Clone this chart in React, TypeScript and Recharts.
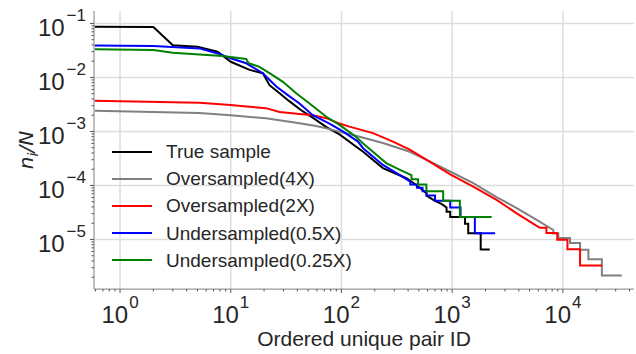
import React from 'react';
import { LineChart, Line, XAxis, YAxis, CartesianGrid, Legend } from 'recharts';

// rank (x) and normalised count (y), one pair of arrays per sample
const trueX = [0.59, 2, 3, 5, 7.6, 10, 14.8, 19.5, 22.4, 27.6, 34, 43, 55, 73, 96, 136, 157, 237, 386, 450, 510, 586, 587, 700, 801, 890, 891, 960, 961, 1306, 1307, 1396, 1397, 1810, 1811, 2185];
const trueY = [0.087, 0.086, 0.0394, 0.0371, 0.03, 0.0195, 0.0138, 0.012, 0.0072, 0.0051, 0.0036, 0.0025, 0.0018, 0.0012, 0.00088, 0.00052, 0.00042, 0.00021, 0.000136, 0.00011, 0.000091, 0.000072, 0.000065, 0.000052, 0.0000455, 0.000039, 0.0000325, 0.0000325, 0.000026, 0.000026, 0.0000195, 0.0000195, 0.000013, 0.000013, 0.0000065, 0.0000065];

const over4X = [0.59, 5.2, 10, 20.8, 41.8, 59, 83, 135, 237, 414, 675, 1020, 1550, 2518, 3828, 5800, 8200, 8201, 9100, 9101, 11600, 11601, 14300, 14301, 17000, 17001, 22500, 22501, 34100];
const over4Y = [0.00243, 0.0022, 0.002, 0.00175, 0.00142, 0.00126, 0.00107, 0.00083, 0.00061, 0.00042, 0.00026, 0.00017, 0.00011, 0.000061, 0.000038, 0.000023, 0.000015, 0.0000129, 0.0000129, 0.0000107, 0.0000107, 0.0000086, 0.0000086, 0.00000645, 0.00000645, 0.0000043, 0.0000043, 0.00000215, 0.00000215];

const over2X = [0.59, 5.2, 10, 13.8, 20.8, 27.6, 41.8, 55, 73, 96, 118, 193, 292, 414, 675, 960, 1550, 2518, 3828, 5800, 6200, 7100, 7101, 8900, 8901, 11000, 11001, 14300, 14301, 22500];
const over2Y = [0.0037, 0.0034, 0.0031, 0.0029, 0.0027, 0.0023, 0.0021, 0.002, 0.00176, 0.0014, 0.00123, 0.00093, 0.00065, 0.00046, 0.00025, 0.00016, 0.000095, 0.000054, 0.0000305, 0.0000178, 0.0000164, 0.0000164, 0.0000132, 0.0000132, 0.0000099, 0.0000099, 0.0000066, 0.0000066, 0.0000033, 0.0000033];

const under05X = [0.59, 2, 5.2, 7.9, 10, 13.8, 19.5, 25.8, 32.8, 41.8, 55, 78, 103, 141, 157, 237, 338, 418, 419, 480, 481, 540, 541, 586, 587, 700, 701, 960, 961, 1191, 1192, 1603, 1604, 2443];
const under05Y = [0.0389, 0.0383, 0.0345, 0.0272, 0.0226, 0.0183, 0.012, 0.0068, 0.0047, 0.0033, 0.002, 0.0014, 0.001, 0.00065, 0.00049, 0.00024, 0.000155, 0.000117, 0.000104, 0.000104, 0.000091, 0.000091, 0.000078, 0.000078, 0.000065, 0.000065, 0.000052, 0.000052, 0.000039, 0.000039, 0.000026, 0.000026, 0.000013, 0.000013];

const under025X = [0.59, 2, 3, 8.4, 13.8, 14.5, 18, 22.4, 29.6, 39, 51.5, 73, 96, 136, 157, 254, 338, 429, 430, 492, 493, 585, 586, 829, 830, 1174, 1175, 2275];
const under025Y = [0.0333, 0.0323, 0.0288, 0.025, 0.022, 0.0183, 0.0159, 0.012, 0.0083, 0.0051, 0.0033, 0.00187, 0.00132, 0.00079, 0.0006, 0.00026, 0.000195, 0.000156, 0.00013, 0.00013, 0.000104, 0.000104, 0.000078, 0.000078, 0.000052, 0.000052, 0.000026, 0.000026];

const xMajor = [1, 10, 100, 1000, 10000];
const xExp = ['0', '1', '2', '3', '4'];
const yMajor = [1e-1, 1e-2, 1e-3, 1e-4, 1e-5];
const yExp = ['\u22121', '\u22122', '\u22123', '\u22124', '\u22125'];

const xDomain = [0.582, 43900];
const yDomain = [1.21e-6, 0.17];

const FONT = '"Liberation Sans", Arial, sans-serif';
const TEXT = '#262626';

const pairs = (xs: number[], ys: number[]) => xs.map((x, i) => ({ x, y: ys[i] }));

const series = [
  { name: 'True sample', color: '#000000', data: pairs(trueX, trueY) },
  { name: 'Oversampled(4X)', color: '#808080', data: pairs(over4X, over4Y) },
  { name: 'Oversampled(2X)', color: '#ff0000', data: pairs(over2X, over2Y) },
  { name: 'Undersampled(0.5X)', color: '#0000ff', data: pairs(under05X, under05Y) },
  { name: 'Undersampled(0.25X)', color: '#008000', data: pairs(under025X, under025Y) },
];

// minor ticks, 2..9 of every decade inside the domain
const minors = (lo: number, hi: number) => {
  const out: number[] = [];
  for (let e = Math.floor(Math.log10(lo)); e <= Math.ceil(Math.log10(hi)); e++) {
    for (let m = 2; m <= 9; m++) {
      const v = m * Math.pow(10, e);
      if (v >= lo && v <= hi) out.push(v);
    }
  }
  return out;
};
const xTicks = [...xMajor, ...minors(xDomain[0], xDomain[1])];
const yTicks = [...yMajor, ...minors(yDomain[0], yDomain[1])];

const XTick = (props: any) => {
  const { x, y, payload } = props;
  const i = xMajor.indexOf(payload.value);
  return (
    <g>
      <line x1={x} x2={x} y1={y} y2={y + (i >= 0 ? 4 : 2.5)} stroke="#555" strokeWidth={1} />
      {i >= 0 && (
        <text x={x} y={y + 34} textAnchor="middle" fill={TEXT} fontFamily={FONT}>
          <tspan fontSize={24}>10</tspan>
          <tspan fontSize={17} dx={1} dy={-15}>{xExp[i]}</tspan>
        </text>
      )}
    </g>
  );
};

const YTick = (props: any) => {
  const { x, y, payload } = props;
  const i = yMajor.indexOf(payload.value);
  return (
    <g>
      <line x1={x} x2={x - (i >= 0 ? 4 : 2.5)} y1={y} y2={y} stroke="#555" strokeWidth={1} />
      {i >= 0 && (
        <text x={x - 8} y={y + 12.5} textAnchor="end" fill={TEXT} fontFamily={FONT}>
          <tspan fontSize={24}>10</tspan>
          <tspan fontSize={17} dx={2} dy={-15}>{yExp[i]}</tspan>
        </text>
      )}
    </g>
  );
};

const LegendBox = () => (
  <div style={{ fontFamily: FONT, fontSize: 19, color: TEXT }}>
    {series.map((s) => (
      <div key={s.name} style={{ display: 'flex', alignItems: 'center', height: 27.2 }}>
        <svg width={40} height={4}>
          <line x1={0} x2={40} y1={2} y2={2} stroke={s.color} strokeWidth={2} />
        </svg>
        <span style={{ marginLeft: 14, lineHeight: '27px', whiteSpace: 'nowrap' }}>{s.name}</span>
      </div>
    ))}
  </div>
);

export default function App() {
  return (
    <div style={{ position: 'absolute', left: 0, top: 0, background: '#fff' }}>
      <LineChart width={636} height={354} margin={{ top: 11, right: 2, left: 0, bottom: 0 }}>
        <CartesianGrid
          stroke="#dddddd"
          strokeWidth={1.5}
          verticalValues={xMajor}
          horizontalValues={yMajor}
        />
        <XAxis
          dataKey="x"
          type="number"
          scale="log"
          domain={xDomain}
          allowDataOverflow
          ticks={xTicks}
          interval={0}
          tick={<XTick />}
          tickLine={false}
          tickSize={0}
          tickMargin={0}
          height={65}
          axisLine={{ stroke: '#999', strokeWidth: 1.25 }}
          label={{ value: 'Ordered unique pair ID', position: 'insideBottom', offset: 8, fontSize: 21, fontFamily: FONT, fill: TEXT }}
        />
        <YAxis
          dataKey="y"
          type="number"
          scale="log"
          domain={yDomain}
          allowDataOverflow
          ticks={yTicks}
          interval={0}
          tick={<YTick />}
          tickLine={false}
          tickSize={0}
          tickMargin={0}
          width={94}
          axisLine={{ stroke: '#999', strokeWidth: 1.25 }}
          label={(p: any) => {
            const vb = p.viewBox || {};
            const cy = (vb.y ?? 11) + (vb.height ?? 278) / 2;
            return (
              <text transform={`translate(33,${cy}) rotate(-90)`} textAnchor="middle" fill={TEXT} fontFamily="'DejaVu Sans', sans-serif" fontStyle="italic" fontSize={20}>
                <tspan>n</tspan>
                <tspan fontSize={14} dy={5}>i</tspan>
                <tspan dy={-5}>/N</tspan>
              </text>
            );
          }}
        />
        <Legend
          layout="vertical"
          align="center"
          verticalAlign="middle"
          content={<LegendBox />}
          wrapperStyle={{ left: 112, top: 138, width: 'auto' }}
        />
        {series.map((s) => (
          <Line
            key={s.name}
            data={s.data}
            dataKey="y"
            name={s.name}
            type="linear"
            stroke={s.color}
            strokeWidth={2}
            dot={false}
            activeDot={false}
            isAnimationActive={false}
          />
        ))}
      </LineChart>
    </div>
  );
}
